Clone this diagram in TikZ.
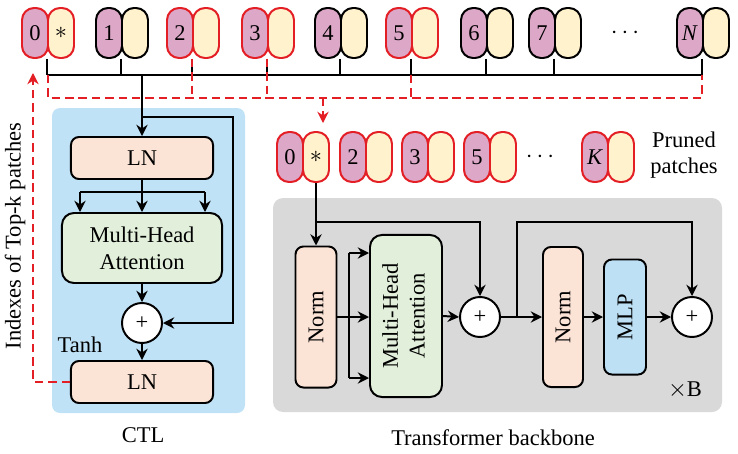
\documentclass[tikz,border=0pt]{standalone}
\usepackage{fontspec}
\setmainfont{Liberation Serif}
\usepackage{graphicx}
\usetikzlibrary{arrows.meta, positioning, calc}

\definecolor{tokpink}{RGB}{221,167,200}
\definecolor{tokyellow}{RGB}{255,242,204}
\definecolor{tokred}{RGB}{227,30,36}
\definecolor{ctlblue}{RGB}{192,226,246}
\definecolor{lnpeach}{RGB}{251,227,214}
\definecolor{mhagreen}{RGB}{226,239,218}
\definecolor{mlpblue}{RGB}{189,224,245}
\definecolor{bbgray}{RGB}{217,217,217}

\begin{document}
\begin{tikzpicture}[
        x=0.025cm, y=-0.025cm,
        font=\fontsize{16}{19}\selectfont,
        line width=1.4pt,
        arr/.style={-{Stealth[length=8pt,width=8pt]}},
        idx/.style={draw=tokred, dash pattern=on 6pt off 3.5pt},
        pinkhalf/.style={draw, fill=tokpink, rounded corners=0.3cm, minimum width=0.65cm, minimum height=1.25cm, inner sep=0pt},
        yellowhalf/.style={pinkhalf, fill=tokyellow},
        block/.style={draw, rounded corners=0.2cm, inner sep=0pt, align=center},
        addop/.style={draw, circle, fill=white, minimum size=1cm, inner sep=0pt}
    ]
        \useasboundingbox (0,0) rectangle (738,454);

        % input patches
        \node[pinkhalf, draw=tokred] (p0) at (35,33) {0};
        \node[yellowhalf, draw=tokred] (q0) at (61,33) {$\ast$};
        \foreach \x/\lab/\edge [count=\i] in {96/1/black, 167/2/tokred, 242/3/tokred, 315/4/black, 386/5/tokred, 461/6/black, 529/7/black, 677/\textit{N}/black} {
            \node[pinkhalf, draw=\edge] (p\i) at (\x+13,33) {\lab};
            \node[yellowhalf, draw=\edge] (q\i) at (\x+39,33) {};
        }
        \node (dotsin) at (625,33) {$\cdots$};

        \coordinate (bus) at (48,75);
        \coordinate (sel) at (48,98);
        \foreach \i in {0,...,8}
            \draw (q\i.south west) -- (q\i.south west |- bus);
        \draw (bus) -- (bus -| q8.south west);

        % selected indexes
        \draw[idx] (bus) -- (sel) -- (sel -| q8.south west) -- (q8.south west |- bus);
        \foreach \i in {2,3}
            \draw[idx] (q\i.south west) -- (q\i.south west |- sel);
        \draw[idx] (q5.south west |- bus) -- (q5.south west |- sel);

        % pruned patches
        \node[pinkhalf, draw=tokred] (r0) at (290,157) {0};
        \node[yellowhalf, draw=tokred] (s0) at (316,157) {$\ast$};
        \foreach \x/\lab [count=\i] in {340/2, 402/3, 464/5, 582/\textit{K}} {
            \node[pinkhalf, draw=tokred] (r\i) at (\x+13,157) {\lab};
            \node[yellowhalf, draw=tokred] (s\i) at (\x+39,157) {};
        }
        \node (dotspr) at (540,157) {$\cdots$};
        \node[align=center] (prlabel) at (684,155) {Pruned\\patches};

        \coordinate (pick) at (323,98);
        \draw[idx, arr, shorten >=2mm] (pick) -- (pick |- s0.north);

        % CTL
        \fill[ctlblue, rounded corners=0.2cm] (52,108) rectangle (245,413);
        \node[block, fill=lnpeach, minimum width=3.55cm, minimum height=1.05cm] (ln1) at (142,158) {LN};
        \node[block, fill=mhagreen, rounded corners=0.3cm, minimum width=4cm, minimum height=1.75cm] (cmha) at (142,248) {Multi-Head\\Attention};
        \node[addop] (cplus) at (142,323) {+};
        \node[block, fill=lnpeach, minimum width=3.55cm, minimum height=1.05cm] (ln2) at (142,382) {LN};
        \node (tanh) at (80,345) {Tanh};
        \node (ctlname) at (143,435) {CTL};

        \coordinate (ctlin) at (142,75);
        \coordinate (ctlskip) at (142,117);
        \coordinate (fanl) at (80,192);
        \coordinate (fanr) at (205,192);
        \draw[arr] (ctlin) -- (ln1.north);
        \draw[arr] (ctlskip) -- (233,117) |- (cplus.east);
        \draw (ln1.south) -- (ln1.south |- fanl);
        \draw (fanl) -- (fanr);
        \draw[arr] (fanl) -- (fanl |- cmha.north);
        \draw[arr] (ln1.south |- fanl) -- (cmha.north);
        \draw[arr] (fanr) -- (fanr |- cmha.north);
        \draw[arr] (cmha.south) -- (cplus.north);
        \draw[arr] (cplus.south) -- (ln2.north);

        \draw[idx, arr] (ln2.west) -| ([xshift=-0.05cm, yshift=-0.35cm]p0.south);
        \node[rotate=90] (idxlabel) at (15,236) {Indexes of Top-k patches};

        % Transformer backbone
        \fill[bbgray, rounded corners=0.25cm] (273,198) rectangle (722,412);
        \node[block, fill=lnpeach, minimum width=1.025cm, minimum height=3.525cm] (norm1) at (316,317) {\rotatebox{90}{Norm}};
        \node[block, fill=mhagreen, rounded corners=0.3cm, minimum width=1.8cm, minimum height=4.05cm] (bmha) at (406,316) {\rotatebox{90}{\begin{tabular}{@{}c@{}}Multi-Head\\Attention\end{tabular}}};
        \node[addop] (bplus1) at (480,317) {+};
        \node[block, fill=lnpeach, minimum width=1cm, minimum height=3.5cm] (norm2) at (563,317) {\rotatebox{90}{Norm}};
        \node[block, fill=mlpblue, minimum width=1.05cm, minimum height=2.875cm] (mlp) at (625,317) {\rotatebox{90}{MLP}};
        \node[addop] (bplus2) at (692,317) {+};
        \node (rep) at (685,390) {$\times$B};
        \node (bbname) at (493,438) {Transformer backbone};

        \coordinate (bbsplit) at (316,222);
        \coordinate (fant) at (349,253);
        \coordinate (fanb) at (349,378);
        \coordinate (skip2) at (517,317);
        \draw[arr] (s0.south) -- (norm1.north);
        \draw[arr] (bbsplit) -| (bplus1.north);
        \draw (fant) -- (fanb);
        \draw[arr] (norm1.east) -- (norm1.east -| bmha.west);
        \draw[arr] (fant) -- (fant -| bmha.west);
        \draw[arr] (fanb) -- (fanb -| bmha.west);
        \draw[arr] (bmha.east) -- (bplus1.west);
        \draw[arr] (bplus1.east) -- (norm2.west);
        \draw[arr] (skip2) |- (bplus2 |- bbsplit) -- (bplus2.north);
        \draw[arr] (norm2.east) -- (mlp.west);
        \draw[arr] (mlp.east) -- (bplus2.west);
    \end{tikzpicture}
\end{document}
